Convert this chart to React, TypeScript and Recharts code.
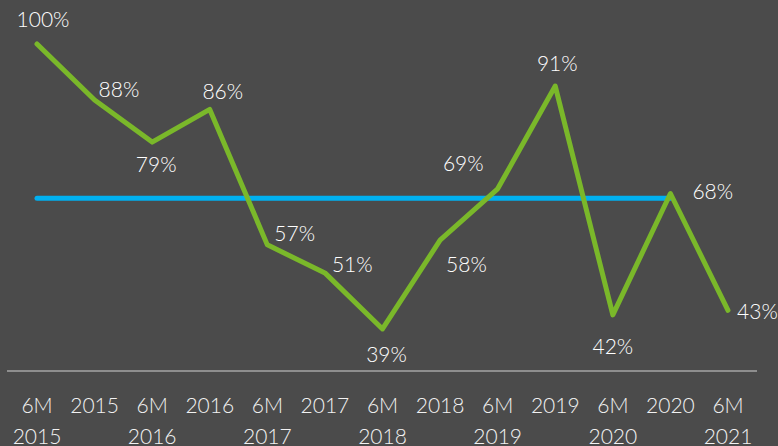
import React from "react";
import { LineChart, Line, XAxis, YAxis } from "recharts";

const periods = [
  "6M 2015", "2015", "6M 2016", "2016", "6M 2017", "2017", "6M 2018",
  "2018", "6M 2019", "2019", "6M 2020", "2020", "6M 2021",
];
const ratio = [100, 88, 79, 86, 57, 51, 39, 58, 69, 91, 42, 68, 43];
const average = [67, 67, 67, 67, 67, 67, 67, 67, 67, 67, 67, 67, null];

const data = periods.map((period, i) => ({ period, ratio: ratio[i], average: average[i] }));

// label placement per point: [dx, dy, anchor]
const labelPlacement: [number, number, "start" | "middle" | "end"][] = [
  [6, -17, "middle"],
  [4, -3, "start"],
  [4, 30, "middle"],
  [13, -10, "middle"],
  [7, -4, "start"],
  [7, -1, "start"],
  [4, 33, "middle"],
  [6, 32, "start"],
  [-14, -18, "end"],
  [2, -15, "middle"],
  [0, 39, "middle"],
  [22, 6, "start"],
  [9, 9, "start"],
];

const FONT = "Lato, 'Open Sans', sans-serif";

const renderLabel = (props: any) => {
  const { x, y, value, index } = props;
  const [dx, dy, anchor] = labelPlacement[index] || [0, -10, "middle"];
  return (
    <text x={x + dx} y={y + dy} textAnchor={anchor} fill="#ffffff" fontSize={21} fontWeight={300} fontFamily={FONT}>
      {value}%
    </text>
  );
};

const PeriodTick = (props: any) => {
  const { x, y, payload } = props;
  const parts = String(payload.value).split(" ");
  return (
    <text x={x} y={y} textAnchor="middle" fill="#f2f2f2" fontSize={21} fontWeight={300} fontFamily={FONT}>
      {parts.map((p, i) => (
        <tspan key={i} x={x} y={y + 42 + i * 31}>
          {p}
        </tspan>
      ))}
    </text>
  );
};

export default function App() {
  return (
    <div style={{ position: "fixed", top: 0, left: 0, width: 778, height: 446, background: "#4b4b4b" }}>
      <LineChart width={778} height={446} data={data} margin={{ top: 44, right: 21, bottom: 0, left: 7 }}>
        <XAxis
          dataKey="period"
          interval={0}
          height={75}
          padding={{ left: 30, right: 29 }}
          axisLine={{ stroke: "#8e8e8e", strokeWidth: 2 }}
          tickLine={false}
          tickSize={0}
          tickMargin={0}
          tick={<PeriodTick />}
        />
        <YAxis hide domain={[30, 100]} />
        <Line
          dataKey="average"
          stroke="#00b0f0"
          strokeWidth={5}
          strokeLinecap="round"
          dot={false}
          activeDot={false}
          isAnimationActive={false}
        />
        <Line
          dataKey="ratio"
          stroke="#7ab82a"
          strokeWidth={5}
          strokeLinecap="round"
          strokeLinejoin="round"
          dot={false}
          activeDot={false}
          label={renderLabel}
          isAnimationActive={false}
        />
      </LineChart>
    </div>
  );
}
